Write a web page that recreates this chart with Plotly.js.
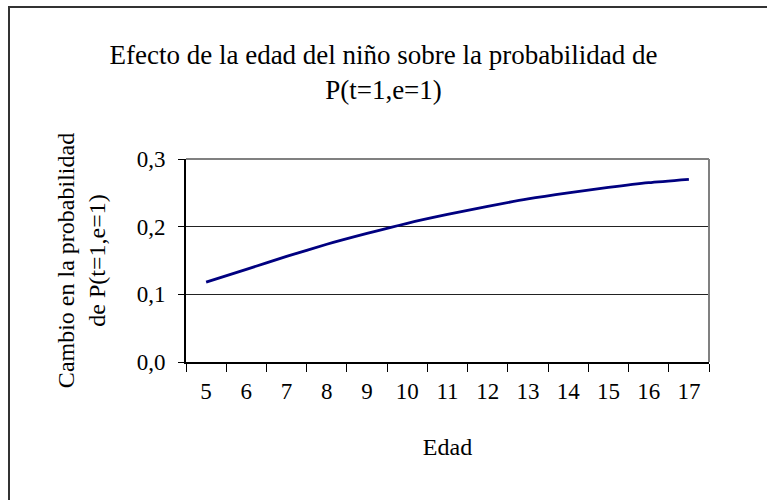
<!DOCTYPE html>
<html>
<head>
<meta charset="utf-8">
<script src="https://cdn.plot.ly/plotly-3.0.1.min.js"></script>
<style>
html,body{margin:0;padding:0;background:#fff;}
#wrap{position:relative;width:767px;height:500px;overflow:hidden;}
#chart{position:absolute;left:0;top:0;width:767px;height:500px;}
#frame{position:absolute;left:8px;top:6px;width:800px;height:600px;border-left:2px solid #333;border-top:2px solid #333;pointer-events:none;}
</style>
</head>
<body>
<div id="wrap"><div id="chart"></div><div id="frame"></div></div>
<script>
const edades = ["5","6","7","8","9","10","11","12","13","14","15","16","17"];
const cambio = [0.118, 0.137, 0.156, 0.174, 0.190, 0.205, 0.218, 0.230, 0.241, 0.250, 0.258, 0.265, 0.270];
const yTicks = [0, 0.1, 0.2, 0.3];

const font = "Liberation Serif, Times New Roman, serif";
const trace = {
  x: edades, y: cambio, type: "scatter", mode: "lines",
  line: {color: "#000080", width: 2.8, shape: "spline", smoothing: 0.6},
  hoverinfo: "skip"
};
const layout = {
  width: 767, height: 500,
  margin: {l: 186, r: 58, t: 159, b: 138, pad: 0},
  paper_bgcolor: "rgba(0,0,0,0)", plot_bgcolor: "#fff",
  separators: ",.",
  showlegend: false,
  font: {family: font, color: "#000", size: 23},
  title: {text: "Efecto de la edad del niño sobre la probabilidad de<br>P(t=1,e=1)",
    font: {family: font, size: 27, color: "#000"}, x: 0.5, xanchor: "center", y: 0.873, yanchor: "middle"},
  xaxis: {
    type: "category", range: [-0.5, 12.5], tickson: "boundaries", ticks: "outside", ticklen: 8, tickcolor: "#000", tickwidth: 1,
    showline: true, linecolor: "#000", linewidth: 1.5, showgrid: false, zeroline: false,
    tickfont: {family: font, size: 23}, ticklabelstandoff: 8,
    title: {text: "Edad", font: {family: font, size: 24}, standoff: 35}
  },
  yaxis: {
    range: [0, 0.3], tickvals: yTicks, tickformat: ".1f", ticks: "outside", ticklen: 6, tickcolor: "#000",
    showline: true, linecolor: "#000", linewidth: 2, showgrid: true, gridcolor: "#222", gridwidth: 1,
    zeroline: false, tickfont: {family: font, size: 23}, ticklabelstandoff: 8,
    title: {text: "Cambio en la probabilidad<br>de P(t=1,e=1)", font: {family: font, size: 24}, standoff: 24}
  },
  shapes: [
    {type: "line", xref: "paper", yref: "paper", x0: 0, x1: 1, y0: 1, y1: 1, line: {color: "#808080", width: 2}},
    {type: "line", xref: "paper", yref: "paper", x0: 1, x1: 1, y0: 0, y1: 1, line: {color: "#808080", width: 2}}
  ]
};
Plotly.newPlot("chart", [trace], layout, {staticPlot: true, displayModeBar: false});
</script>
</body>
</html>
